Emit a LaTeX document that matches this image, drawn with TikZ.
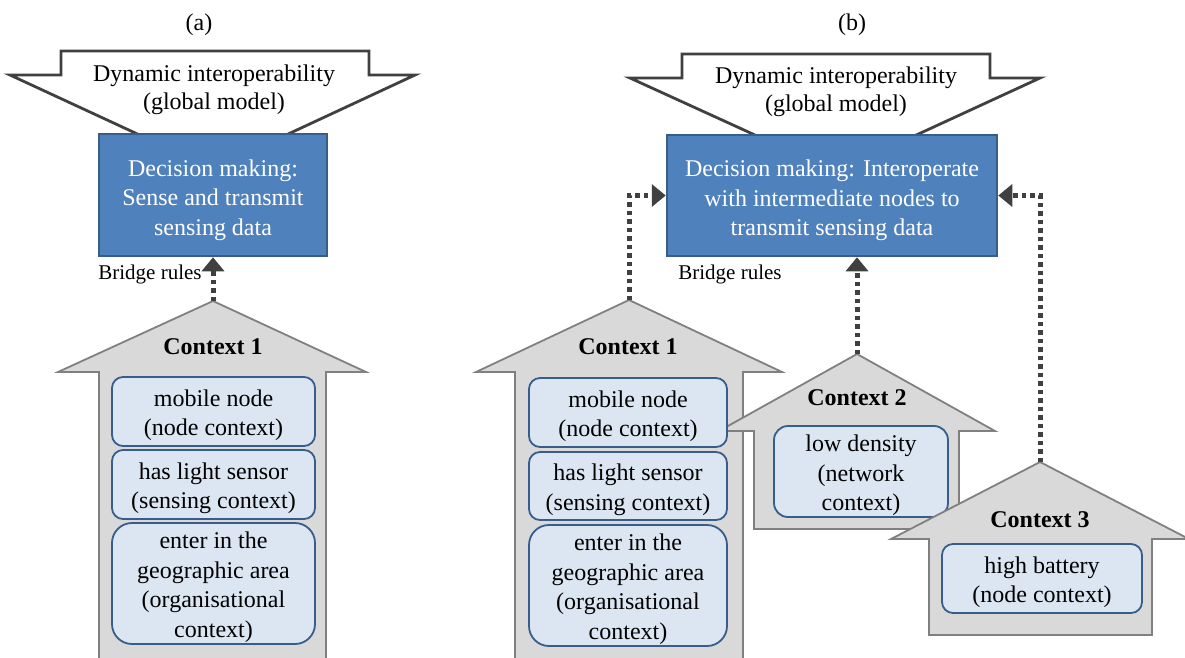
\documentclass[tikz,border=0pt]{standalone}
\usepackage{fontspec}
\setmainfont{Liberation Serif}
\usetikzlibrary{arrows.meta}

\definecolor{decfill}{HTML}{4F81BD}
\definecolor{decline}{HTML}{385D8A}
\definecolor{calloutline}{HTML}{404040}
\definecolor{ctxfill}{HTML}{D9D9D9}
\definecolor{ctxline}{HTML}{808080}
\definecolor{itemfill}{HTML}{DCE6F2}
\definecolor{itemline}{HTML}{385D8A}
\definecolor{bridgecol}{HTML}{404040}

\newcommand{\mainsize}{\fontsize{24}{29.5}\selectfont}
% taller first line, so that a text block sits a little lower in its box
\newcommand{\dropitem}{\rule{0pt}{24.5pt}}
\newcommand{\dropdec}{\rule{0pt}{26.5pt}}

\begin{document}
\begin{tikzpicture}[x=1pt, y=-1pt,
  calloutshape/.style={fill=white, draw=calloutline, line width=2.8pt, line join=miter},
  calloutlabel/.style={font=\fontsize{24}{28}\selectfont, align=center, inner sep=0},
  decbox/.style={rectangle, fill=decfill, draw=decline, line width=2.5pt,
    text=white, font=\mainsize, align=center, inner sep=0},
  ctxarrow/.style={fill=ctxfill, draw=ctxline, line width=1.8pt, line join=miter},
  ctxtitle/.style={font=\bfseries\fontsize{24}{29}\selectfont, inner sep=0},
  ctxitem/.style={rectangle, rounded corners=11pt, fill=itemfill, draw=itemline,
    line width=1.8pt, font=\mainsize, align=center, inner sep=0},
  bridgelabel/.style={font=\fontsize{21}{25}\selectfont, inner sep=0},
  panellabel/.style={font=\fontsize{24}{29}\selectfont, inner sep=0},
  bridge/.style={draw=bridgecol, line width=5pt, dash pattern=on 4.5pt off 4pt,
    -{Triangle[width=22pt,length=14pt]}},
]
\useasboundingbox (0,0) rectangle (1185,657);
\clip (0,0) rectangle (1185,657);

% ---------------- panel (a) ----------------
\node[panellabel] (pa) at (199,25) {(a)};

% global model callout
\draw[calloutshape] (10,75) -- (61,75) -- (61,51) -- (369,51) -- (369,75)
  -- (415,75) -- (213,169) -- cycle;
\node[calloutlabel] (gma) at (214,90) {Dynamic interoperability\\(global model)};

% decision box
\node[decbox, minimum width=228pt, minimum height=122pt] (deca) at (213,195)
  {\dropdec Decision making:\\Sense and transmit\\sensing data};
\node[bridgelabel] (bra) at (150,274) {Bridge rules};

% context 1 arrow
\coordinate (c1a) at (213,301);
\draw[ctxarrow] (99,665) -- (99,372) -- (58,372) -- (c1a) -- (366,372)
  -- (326,372) -- (326,665) -- cycle;
\node[ctxtitle] (t1a) at (213,347) {Context 1};
\node[ctxitem, minimum width=203pt, minimum height=69pt] (a1) at (213.5,411.5)
  {\dropitem mobile node\\(node context)};
\node[ctxitem, minimum width=203pt, minimum height=69pt] (a2) at (213.5,484.5)
  {\dropitem has light sensor\\(sensing context)};
\node[ctxitem, rounded corners=20pt, minimum width=203pt, minimum height=121pt] (a3)
  at (213.5,583.5) {\dropitem enter in the\\geographic area\\(organisational\\context)};

\draw[bridge] (c1a) -- (deca.south);

% ---------------- panel (b) ----------------
\node[panellabel] (pb) at (852,25) {(b)};

% global model callout
\draw[calloutshape] (630,78) -- (682,78) -- (682,54) -- (990,54) -- (990,78)
  -- (1040,78) -- (836,172) -- cycle;
\node[calloutlabel] (gmb) at (836,92) {Dynamic interoperability\\(global model)};

% decision box
\node[decbox, minimum width=330pt, minimum height=121pt] (decb) at (832,195.5)
  {\dropdec Decision making: Interoperate\\with intermediate nodes to\\transmit sensing data};
\node[bridgelabel] (brb) at (730,274) {Bridge rules};

% context 1 arrow
\coordinate (c1b) at (629,300);
\draw[ctxarrow] (515,665) -- (515,372) -- (476,372) -- (c1b) -- (782,372)
  -- (743,372) -- (743,665) -- cycle;
\node[ctxtitle] (t1b) at (628,347) {Context 1};

% context 2 arrow (lies over context 1, under its items)
\coordinate (c2b) at (857,354);
\draw[ctxarrow] (754,529) -- (754,431) -- (719,431) -- (c2b) -- (995,431)
  -- (959,431) -- (959,529) -- cycle;

% context 1 items
\node[ctxitem, minimum width=198pt, minimum height=69pt] (b1) at (628,412.5)
  {\dropitem mobile node\\(node context)};
\node[ctxitem, minimum width=198pt, minimum height=68pt] (b2) at (628,486)
  {\dropitem has light sensor\\(sensing context)};
\node[ctxitem, rounded corners=20pt, minimum width=198pt, minimum height=121pt] (b3)
  at (628,585.5) {\dropitem enter in the\\geographic area\\(organisational\\context)};

% context 2 items
\node[ctxtitle] (t2b) at (857,398) {Context 2};
\node[ctxitem, rounded corners=14pt, minimum width=174pt, minimum height=91pt] (c1)
  at (861,471.5) {\dropitem low density\\(network\\context)};

% context 3 arrow
\coordinate (c3b) at (1040,462);
\draw[ctxarrow] (929,635) -- (929,539) -- (891,539) -- (c3b) -- (1189,539)
  -- (1152,539) -- (1152,635) -- cycle;
\node[ctxtitle] (t3b) at (1040,520) {Context 3};
\node[ctxitem, minimum width=200pt, minimum height=69pt] (d1) at (1042,578.5)
  {\dropitem high battery\\(node context)};

% bridge rules
\draw[bridge] (c1b) |- (decb.west);
\draw[bridge] (c2b) -- (c2b |- decb.south);
\draw[bridge] (c3b) |- (decb.east);
\end{tikzpicture}
\end{document}
